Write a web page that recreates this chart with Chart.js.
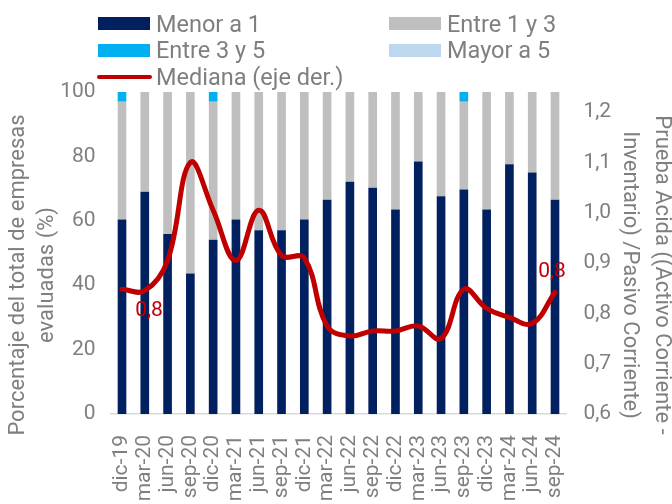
<!DOCTYPE html>
<html>
<head>
<meta charset="utf-8">
<script src="https://cdn.jsdelivr.net/npm/chart.js@4"></script>
<style>
  html, body { margin: 0; padding: 0; background: #fff; }
  #wrap { position: relative; width: 672px; height: 504px; font-family: Roboto, sans-serif; }
  #legend { position: absolute; left: 0; top: 0; width: 672px; height: 90px; pointer-events: none; }
  .lg { position: absolute; display: flex; align-items: center; color: #7f7f7f; font-size: 23.5px; white-space: nowrap; transform: translateY(-50%); }
  .lg .sw { width: 52px; height: 13px; margin-right: 6px; }
  .lg .ln { width: 55px; height: 4.5px; border-radius: 2px; margin-right: 4px; }
</style>
</head>
<body>
<div id="wrap">
  <canvas id="c" width="672" height="504"></canvas>
  <div id="legend"></div>
</div>
<script>
// Data
const categories = ['dic-19', 'mar-20', 'jun-20', 'sep-20', 'dic-20', 'mar-21', 'jun-21', 'sep-21', 'dic-21', 'mar-22',
                    'jun-22', 'sep-22', 'dic-22', 'mar-23', 'jun-23', 'sep-23', 'dic-23', 'mar-24', 'jun-24', 'sep-24'];
const menorA1   = [60.4, 69.0, 55.9, 43.6, 54.1, 60.4, 57.1, 57.1, 60.4, 66.5, 72.1, 70.3, 63.5, 78.4, 67.6, 69.7, 63.5, 77.6, 75.0, 66.5];
const entre1y3  = [36.6, 31.0, 44.1, 56.4, 42.9, 39.6, 42.9, 42.9, 39.6, 33.5, 27.9, 29.7, 36.5, 21.6, 32.4, 27.3, 36.5, 22.4, 25.0, 33.5];
const entre3y5  = [3.0, 0, 0, 0, 3.0, 0, 0, 0, 0, 0, 0, 0, 0, 0, 0, 3.0, 0, 0, 0, 0];
const mayorA5   = [0, 0, 0, 0, 0, 0, 0, 0, 0, 0, 0, 0, 0, 0, 0, 0, 0, 0, 0, 0];
const mediana   = [0.848, 0.845, 0.905, 1.10, 1.005, 0.905, 1.005, 0.915, 0.91, 0.775, 0.755, 0.765, 0.765, 0.775, 0.75, 0.848, 0.81, 0.792, 0.78, 0.842];
const leftTicks  = [0, 20, 40, 60, 80, 100];
const rightTicks = [0.6, 0.7, 0.8, 0.9, 1.0, 1.1, 1.2];

const GREY = '#7f7f7f';
const FONT = 'Roboto, sans-serif';

const series = [
  { label: 'Menor a 1', data: menorA1, color: '#002060' },
  { label: 'Entre 1 y 3', data: entre1y3, color: '#bfbfbf' },
  { label: 'Entre 3 y 5', data: entre3y5, color: '#00b0f0' },
  { label: 'Mayor a 5', data: mayorA5, color: '#bdd7ee' }
];

// legend, two columns like the original
const legendSlots = [[98, 23.5], [389, 23.5], [98, 50], [389, 50], [98, 77]];
const legendEl = document.getElementById('legend');
const legendItems = series.map(s => ({ label: s.label, color: s.color, line: false }))
  .concat([{ label: 'Mediana (eje der.)', color: '#c00000', line: true }]);
legendItems.forEach((it, i) => {
  const d = document.createElement('div');
  d.className = 'lg';
  d.style.left = (legendSlots[i][0] - (it.line ? 1 : 0)) + 'px';
  d.style.top = legendSlots[i][1] + 'px';
  const m = document.createElement('span');
  m.className = it.line ? 'ln' : 'sw';
  m.style.background = it.color;
  const t = document.createElement('span');
  t.textContent = it.label;
  d.appendChild(m);
  d.appendChild(t);
  legendEl.appendChild(d);
});

// value labels on the median line
const valueLabels = {
  id: 'valueLabels',
  afterDatasetsDraw(chart) {
    const meta = chart.getDatasetMeta(0);
    const ctx = chart.ctx;
    ctx.save();
    ctx.font = '21px ' + FONT;
    ctx.fillStyle = '#c00000';
    ctx.textAlign = 'center';
    ctx.textBaseline = 'middle';
    [{ i: 0, dx: 27, dy: 22 }, { i: mediana.length - 1, dx: -3, dy: -20 }].forEach(l => {
      const p = meta.data[l.i];
      ctx.fillText(mediana[l.i].toFixed(1).replace('.', ','), p.x + l.dx, p.y + l.dy);
    });
    ctx.restore();
  }
};

// axis titles (drawn a bit below the plot centre, as in the original)
const axisTitles = {
  id: 'axisTitles',
  afterDraw(chart) {
    const ctx = chart.ctx;
    const a = chart.chartArea;
    const cy = (a.top + a.bottom) / 2 + 22;
    ctx.save();
    ctx.font = '22px ' + FONT;
    ctx.fillStyle = GREY;
    ctx.textAlign = 'center';
    ctx.textBaseline = 'middle';
    [['Porcentaje del total de empresas', 18], ['evaluadas (%)', 47]].forEach(([t, x]) => {
      ctx.save();
      ctx.translate(x, cy);
      ctx.rotate(-Math.PI / 2);
      ctx.fillText(t, 0, 0);
      ctx.restore();
    });
    [['Prueba Acida ((Activo Corriente -', 661], ['Inventario) /Pasivo Corriente)', 629]].forEach(([t, x]) => {
      ctx.save();
      ctx.translate(x, cy);
      ctx.rotate(Math.PI / 2);
      ctx.fillText(t, 0, 0);
      ctx.restore();
    });
    ctx.restore();
  }
};

const datasets = [{
  type: 'line',
  label: 'Mediana (eje der.)',
  data: mediana,
  yAxisID: 'y1',
  borderColor: '#c00000',
  borderWidth: 5,
  borderCapStyle: 'round',
  pointRadius: 0,
  tension: 0.4,
  fill: false,
  order: 0
}].concat(series.map(s => ({
  type: 'bar',
  label: s.label,
  data: s.data,
  yAxisID: 'y',
  backgroundColor: s.color,
  borderWidth: 0,
  barPercentage: 0.38,
  categoryPercentage: 1,
  order: 1
})));

new Chart(document.getElementById('c'), {
  type: 'bar',
  data: { labels: categories, datasets },
  options: {
    responsive: false,
    devicePixelRatio: 1,
    animation: false,
    layout: { padding: { top: 92, left: 0, right: 0, bottom: 0 } },
    plugins: { legend: { display: false }, tooltip: { enabled: false } },
    scales: {
      x: {
        stacked: true,
        grid: { display: false, drawTicks: false, tickLength: 0 },
        border: { display: true, color: '#d9d9d9', width: 1.5 },
        ticks: { color: GREY, font: { family: FONT, size: 21 }, maxRotation: 90, minRotation: 90, autoSkip: false, padding: 21 },
        afterFit(s) { s.height = 90; }
      },
      y: {
        stacked: true,
        position: 'left',
        min: 0, max: 100,
        grid: { display: false, drawTicks: false },
        border: { display: false },
        ticks: { color: GREY, font: { family: FONT, size: 21 }, padding: 15, stepSize: 20 },
        afterBuildTicks(s) { s.ticks = leftTicks.map(v => ({ value: v })); },
        afterFit(s) { s.width = 110.6; }
      },
      y1: {
        stacked: false,
        position: 'right',
        min: 0.6, max: 1.24,
        grid: { display: false, drawTicks: false },
        border: { display: false },
        ticks: {
          color: GREY, font: { family: FONT, size: 21 }, padding: 17,
          callback: v => v.toFixed(1).replace('.', ',')
        },
        afterBuildTicks(s) { s.ticks = rightTicks.map(v => ({ value: v })); },
        afterFit(s) { s.width = 105.6; }
      }
    }
  },
  plugins: [valueLabels, axisTitles]
});
</script>
</body>
</html>
